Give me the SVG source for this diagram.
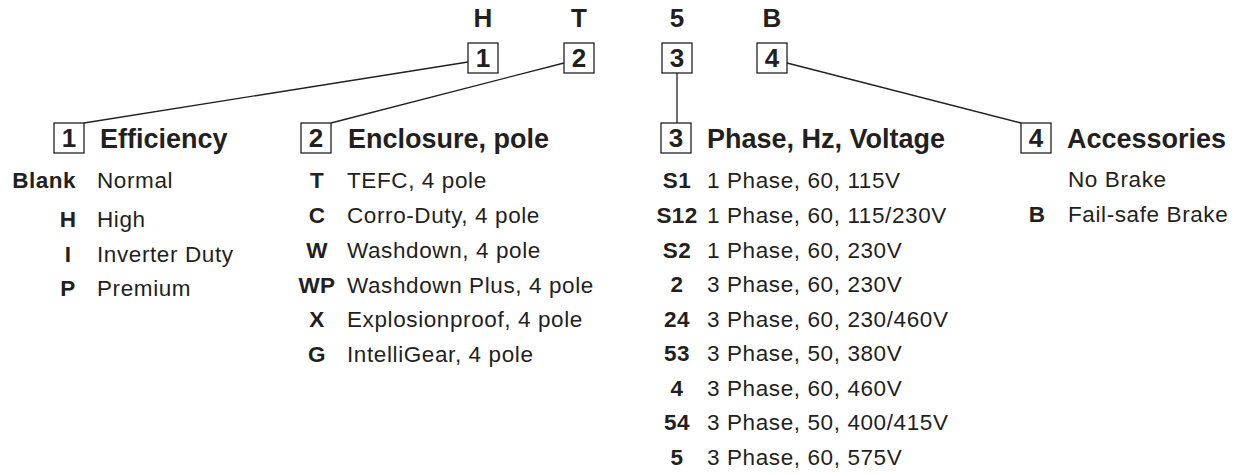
<svg xmlns="http://www.w3.org/2000/svg" width="1239" height="475" viewBox="0 0 1239 475">
<style>
text{font-family:"Liberation Sans",Arial,Helvetica,sans-serif;fill:#231f20}
.top{font-size:26px;font-weight:bold;text-anchor:middle}
.num{font-size:26px;font-weight:bold;text-anchor:middle}
.hd{font-size:27px;font-weight:bold}
.code{font-size:22.5px;font-weight:bold;text-anchor:middle;letter-spacing:0.4px}
.codeR{font-size:22.5px;font-weight:bold;text-anchor:end;letter-spacing:0.5px}
.desc{font-size:22.5px;letter-spacing:0.6px}
.box{fill:#fff;stroke:#231f20;stroke-width:1.3}
.conn{fill:none;stroke:#231f20;stroke-width:1.3}
</style>
<rect width="1239" height="475" fill="#fff"/>
<g id="connectors">
<line class="conn" x1="468" y1="62" x2="84" y2="123"/>
<line class="conn" x1="564" y1="63" x2="331" y2="123"/>
<line class="conn" x1="677" y1="73" x2="677" y2="123"/>
<line class="conn" x1="787" y1="63" x2="1021" y2="123"/>
</g>
<g id="code-top">
<text class="top" x="483" y="27">H</text>
<text class="top" x="579" y="27">T</text>
<text class="top" x="677" y="27">5</text>
<text class="top" x="772" y="27">B</text>
</g>
<g id="top-box-1"><rect class="box" x="468" y="43" width="30" height="30"/><text class="num" x="483" y="67">1</text></g>
<g id="top-box-2"><rect class="box" x="564" y="43" width="30" height="30"/><text class="num" x="579" y="67">2</text></g>
<g id="top-box-3"><rect class="box" x="662" y="43" width="30" height="30"/><text class="num" x="677" y="67">3</text></g>
<g id="top-box-4"><rect class="box" x="757" y="43" width="30" height="30"/><text class="num" x="772" y="67">4</text></g>

<g id="section-1">
<rect class="box" x="54" y="123" width="30" height="30"/><text class="num" x="69" y="147">1</text>
<text class="hd" x="100" y="148">Efficiency</text>
<text class="codeR" x="76" y="188">Blank</text><text class="desc" x="97" y="188">Normal</text>
<text class="code" x="68" y="227">H</text><text class="desc" x="97" y="227">High</text>
<text class="code" x="68" y="262">I</text><text class="desc" x="97" y="262">Inverter Duty</text>
<text class="code" x="68" y="296">P</text><text class="desc" x="97" y="296">Premium</text>
</g>

<g id="section-2">
<rect class="box" x="301" y="123" width="30" height="30"/><text class="num" x="316" y="147">2</text>
<text class="hd" x="348" y="148">Enclosure, pole</text>
<text class="code" x="317" y="188">T</text><text class="desc" x="347" y="188">TEFC, 4 pole</text>
<text class="code" x="317" y="223">C</text><text class="desc" x="347" y="223">Corro-Duty, 4 pole</text>
<text class="code" x="317" y="258">W</text><text class="desc" x="347" y="258">Washdown, 4 pole</text>
<text class="code" x="317" y="293">WP</text><text class="desc" x="347" y="293">Washdown Plus, 4 pole</text>
<text class="code" x="317" y="327">X</text><text class="desc" x="347" y="327">Explosionproof, 4 pole</text>
<text class="code" x="317" y="362">G</text><text class="desc" x="347" y="362">IntelliGear, 4 pole</text>
</g>

<g id="section-3">
<rect class="box" x="661" y="123" width="30" height="30"/><text class="num" x="676" y="147">3</text>
<text class="hd" x="707" y="148">Phase, Hz, Voltage</text>
<text class="code" x="677" y="188">S1</text><text class="desc" x="707" y="188">1 Phase, 60, 115V</text>
<text class="code" x="677" y="223">S12</text><text class="desc" x="707" y="223">1 Phase, 60, 115/230V</text>
<text class="code" x="677" y="258">S2</text><text class="desc" x="707" y="258">1 Phase, 60, 230V</text>
<text class="code" x="677" y="292">2</text><text class="desc" x="707" y="292">3 Phase, 60, 230V</text>
<text class="code" x="677" y="327">24</text><text class="desc" x="707" y="327">3 Phase, 60, 230/460V</text>
<text class="code" x="677" y="361">53</text><text class="desc" x="707" y="361">3 Phase, 50, 380V</text>
<text class="code" x="677" y="396">4</text><text class="desc" x="707" y="396">3 Phase, 60, 460V</text>
<text class="code" x="677" y="430">54</text><text class="desc" x="707" y="430">3 Phase, 50, 400/415V</text>
<text class="code" x="677" y="465">5</text><text class="desc" x="707" y="465">3 Phase, 60, 575V</text>
</g>

<g id="section-4">
<rect class="box" x="1021" y="123" width="30" height="30"/><text class="num" x="1036" y="147">4</text>
<text class="hd" x="1067" y="148">Accessories</text>
<text class="desc" x="1068" y="187">No Brake</text>
<text class="code" x="1037" y="222">B</text><text class="desc" x="1068" y="222">Fail-safe Brake</text>
</g>
</svg>
